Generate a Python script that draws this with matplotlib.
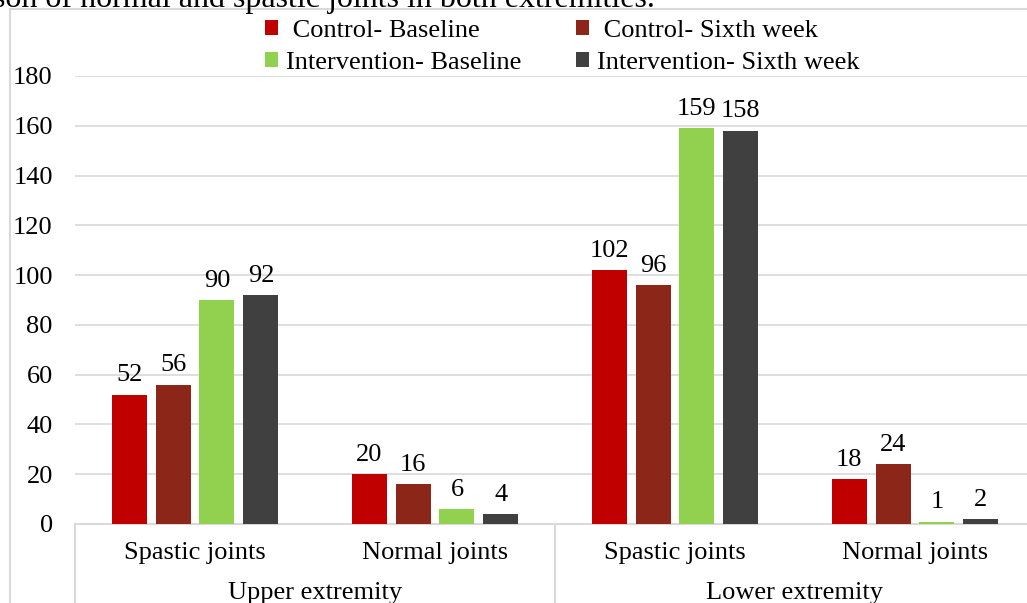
import numpy as np
import matplotlib
matplotlib.use("Agg")
import matplotlib.pyplot as plt
from matplotlib.patches import Rectangle, Patch
from matplotlib.lines import Line2D
import matplotlib.transforms as mtransforms

plt.rcParams.update({
    'font.family': 'Liberation Serif',
    'font.size': 19,
    'figure.dpi': 100,
})

# Joint counts per group
joint_types = ["Spastic joints", "Normal joints", "Spastic joints", "Normal joints"]
extremities = ["Upper extremity", "Lower extremity"]
series_names = [" Control- Baseline", " Control- Sixth week",
                "Intervention- Baseline", "Intervention- Sixth week"]
control_baseline = [52, 20, 102, 18]
control_sixth = [56, 16, 96, 24]
intervention_baseline = [90, 6, 159, 1]
intervention_sixth = [92, 4, 158, 2]
colors = ["#C00000", "#8B2619", "#92D050", "#404040"]

series = [control_baseline, control_sixth, intervention_baseline, intervention_sixth]

W, H = 1027, 603
fig = plt.figure(figsize=(W / 100, H / 100), dpi=100)
ax = fig.add_axes([75 / W, 1 - 524 / H, 960 / W, 448 / H])

# outer chart frame (runs off the right and bottom edges)
fig.add_artist(Rectangle((10 / W, -0.2), 1.2, 1 - 9 / H + 0.2,
                         transform=fig.transFigure, fill=False,
                         edgecolor="#D9D9D9", linewidth=1.5))

# clipped caption above the chart
fig.text(655 / W, 1 - 7 / H, "son of normal and spastic joints in both extremities.",
         ha="right", va="baseline", fontsize=23)

x = np.arange(len(joint_types))
pitch = 0.183
width = 0.146
for i, (vals, c) in enumerate(zip(series, colors)):
    pos = x + (i - 1.5) * pitch
    bars = ax.bar(pos, vals, width=width, color=c, zorder=3)
    for b, v in zip(bars, vals):
        ax.annotate(str(v), (b.get_x() + b.get_width() / 2, v),
                    xytext=(0, 6), textcoords="offset points",
                    ha="center", va="bottom")

ax.set_xlim(-0.5, 3.5)
ax.set_ylim(0, 180)
ax.set_yticks(np.arange(0, 181, 20))
ax.grid(axis="y", color="#D9D9D9", linewidth=1.2, zorder=0)
ax.set_axisbelow(True)
for s in ["top", "right", "left"]:
    ax.spines[s].set_visible(False)
ax.spines["bottom"].set_color("#D9D9D9")
ax.spines["bottom"].set_linewidth(1.5)
ax.tick_params(axis="y", length=0, pad=16)
ax.tick_params(axis="x", length=0, pad=13)
ax.set_xticks(x)
ax.set_xticklabels(joint_types)

# extremity labels and separators under the category axis
trans = mtransforms.blended_transform_factory(ax.transData, ax.transAxes)
for k, name in enumerate(extremities):
    ax.annotate(name, (2 * k + 0.5, 0), xycoords=trans,
                xytext=(0, -50), textcoords="offset points",
                ha="center", va="center")
for xs in [-0.5, 1.5, 3.5]:
    ax.add_line(Line2D([xs, xs], [0, -0.3], transform=trans, clip_on=False,
                       color="#D9D9D9", linewidth=1.5))

handles = [Patch(facecolor=c) for c in colors]
order = [0, 2, 1, 3]
fig.legend([handles[i] for i in order], [series_names[i] for i in order],
           ncol=2, loc="upper left", bbox_to_anchor=(252 / W, 1 - 7 / H),
           frameon=False, handlelength=0.5, handleheight=0.5,
           handletextpad=0.3, columnspacing=2.05, labelspacing=0.38,
           borderpad=0)

fig.savefig("out.png", dpi=100)
